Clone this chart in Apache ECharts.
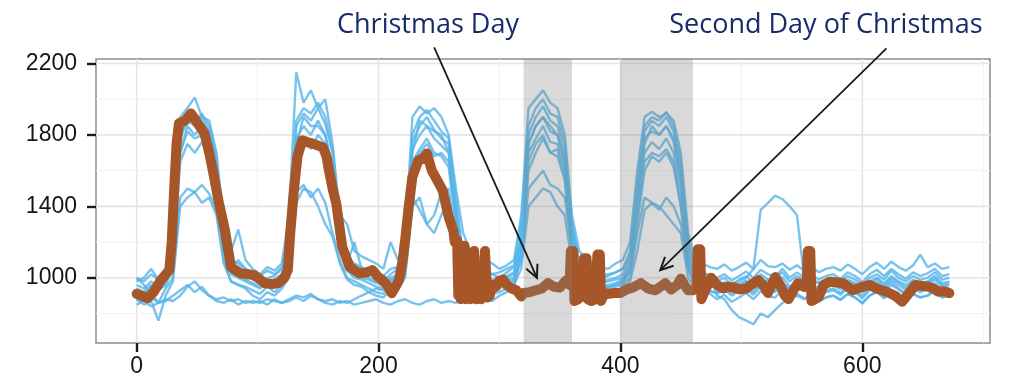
<!DOCTYPE html>
<html><head><meta charset="utf-8">
<script src="https://cdn.jsdelivr.net/npm/echarts@6/dist/echarts.min.js"></script>
<style>html,body{margin:0;padding:0;background:#fff}#c{width:1015px;height:380px}</style>
</head><body><div id="c"></div>
<script>
// time index (15-min steps) of the thin blue weekly profiles
const xIndex = [0,6,12,18,24,30,36,42,48,54,60,66,72,78,84,90,96,102,108,114,120,126,132,138,144,150,156,162,168,174,180,186,192,198,204,210,216,222,228,234,240,246,252,258,264,270,276,282,288,294,300,306,312,318,324,330,336,342,348,354,360,366,372,378,384,390,396,402,408,414,420,426,432,438,444,450,456,462,468,474,480,486,492,498,504,510,516,522,528,534,540,546,552,558,564,570,576,582,588,594,600,606,612,618,624,630,636,642,648,654,660,666,672];

const week1 = [960,940,980,950,1000,1150,1780,1880,1850,1900,1820,1640,1250,1080,1060,1020,
990,1000,970,990,1020,1200,1850,1920,1880,1950,1860,1700,1300,1100,1050,1030,
1000,980,1010,990,1010,1150,1760,1850,1900,1830,1780,1750,1400,1100,1060,1040,
1020,990,1000,1010,1030,1250,1800,1900,1960,1880,1850,1700,1250,1060,1020,1000,
980,990,1000,1020,1100,1500,1820,1880,1850,1900,1820,1600,1150,1020,1000,990,
980,1000,960,990,1010,970,1020,990,1000,1030,980,1010,990,1000,970,990,
1000,980,1010,990,960,1000,1020,990,1040,1000,980,1010,990,1000,1030,990,
1000];
const week2 = [920,900,950,930,960,1050,1650,1750,1700,1760,1680,1500,1150,1020,1000,980,
960,940,980,950,990,1100,1700,1780,1720,1800,1750,1550,1180,1040,1000,990,
970,950,940,980,1000,1080,1650,1720,1780,1700,1680,1620,1300,1050,1020,1000,
980,960,970,990,1000,1150,1700,1780,1850,1760,1750,1600,1200,1020,990,980,
950,960,970,990,1050,1400,1700,1760,1720,1780,1700,1480,1100,990,970,960,
940,975,930,950,985,940,960,990,950,970,940,995,950,960,925,950,
960,935,970,955,920,965,980,945,990,960,935,970,955,960,990,950,
960];
const week3 = [900,880,920,860,940,1000,1450,1500,1480,1520,1470,1380,1100,980,960,950,
930,910,950,920,960,1050,1480,1520,1450,1500,1420,1250,1100,1000,980,960,
940,920,910,950,960,1020,1450,1380,1300,1350,1480,1500,1200,1000,980,970,
950,930,940,960,980,1100,1500,1550,1600,1520,1500,1450,1150,990,960,950,
930,940,950,960,1000,1250,1450,1420,1380,1450,1400,1300,1050,960,940,930,
910,935,900,925,940,905,950,925,920,965,905,940,925,930,895,920,
930,905,945,920,885,930,955,915,960,935,905,940,920,935,960,920,
930];
const week4 = [980,1000,1050,990,1020,1250,1900,1950,2010,1900,1880,1700,1300,1150,1270,1100,
1050,1020,1060,1040,1080,1350,2150,1980,2050,1950,2000,1750,1350,1300,1150,1120,
1100,1080,1050,1200,1100,1200,1900,1960,1920,1950,1900,1800,1500,1250,1150,1120,
1100,1080,1050,1070,1100,1350,1950,2000,2050,1980,1950,1800,1350,1150,1100,1080,
1060,1050,1080,1100,1200,1600,1900,1930,1900,1920,1880,1700,1250,1100,1080,1060,
1050,1075,1040,1060,1085,1050,1100,1065,1060,1080,1045,1070,1040,1065,1030,1050,
1060,1040,1075,1050,1020,1060,1085,1050,1090,1060,1040,1070,1130,1060,1080,1050,
1060];
const week5 = [1000,960,900,980,1020,1100,1700,1850,1800,1850,1780,1600,1200,1050,1100,1050,
1020,980,1000,1010,1050,1150,1750,1900,1850,1850,1800,1600,1250,1080,1200,1050,
1050,1000,980,1020,1050,1100,1700,1880,1850,1820,1800,1700,1350,1150,1100,1080,
1050,1020,1000,1030,1060,1200,1750,1850,1900,1850,1800,1650,1300,1080,1050,1030,
1000,1010,1030,1050,1120,1450,1750,1850,1800,1850,1780,1550,1200,1050,1030,1010,
1000,1020,985,1010,1035,1000,1045,1020,1005,1050,1000,1030,1005,1020,990,1010,
1020,995,1030,1010,975,1020,1045,1010,1050,1020,995,1030,1010,1025,1050,1010,
1020];
const week6 = [880,850,870,760,900,980,1400,1450,1480,1420,1450,1350,1080,980,960,940,
900,880,920,900,940,1000,1420,1500,1480,1400,1300,1230,1080,990,960,950,
920,900,890,930,950,1000,1400,1450,1300,1250,1350,1450,1150,980,960,950,
930,910,920,940,960,1050,1400,1450,1500,1480,1400,1350,1080,970,940,930,
910,920,930,940,980,1150,1380,1420,1400,1350,1300,1250,1000,940,920,910,
880,905,865,890,915,880,925,895,890,935,875,910,885,900,865,890,
900,875,910,890,855,900,925,885,930,905,875,910,890,900,935,890,
900];
const week7 = [880,870,890,860,870,900,930,960,920,950,900,880,890,870,880,860,
870,860,880,870,860,880,900,890,910,880,870,880,860,870,850,860,
870,880,860,850,870,880,860,850,870,880,860,870,860,880,870,860,
880,870,900,920,950,1150,1650,1750,1800,1700,1720,1550,1150,990,960,950,
940,950,960,980,1050,1350,1650,1700,1680,1720,1650,1400,1050,950,930,920,
920,945,910,935,950,920,965,940,930,975,920,950,935,940,910,930,
940,915,950,930,900,940,965,930,975,940,915,950,930,945,970,930,
940];
const week8 = [850,870,840,860,880,870,900,950,980,930,900,870,860,880,850,870,
860,870,850,880,860,870,890,870,900,880,860,850,870,860,880,900,
920,940,930,950,960,1050,1600,1700,1750,1680,1700,1650,1300,1050,1000,980,
960,940,950,970,990,1100,1600,1700,1780,1700,1680,1550,1150,1000,970,960,
940,950,960,970,1030,1300,1600,1680,1650,1700,1620,1400,1080,980,960,950,
950,975,940,965,980,950,995,970,960,1005,950,980,965,970,940,960,
970,945,980,960,930,970,995,960,1000,975,945,980,960,975,1000,960,
970];
const week9 = [940,920,960,930,970,1080,1700,1820,1780,1800,1720,1550,1180,1030,1010,990,
970,950,990,960,1000,1120,1780,1850,1800,1880,1800,1620,1220,1060,1020,1000,
990,970,960,1000,1020,1100,1720,1800,1850,1780,1740,1700,1350,1080,1040,1020,
1000,980,990,1000,1020,1200,1750,1850,1900,1820,1800,1650,1250,1040,1010,990,
970,980,990,1000,1080,1450,1780,1820,1800,1850,1760,1550,1120,1000,980,970,
960,950,970,980,1000,1050,1380,1420,1460,1440,1400,1350,1000,980,970,960,
980,960,990,970,940,980,1000,970,1010,980,960,990,970,980,1010,970,
980];
const week10 = [1000,980,1020,990,1030,1200,1800,1900,1870,1920,1850,1680,1280,1100,1080,1050,
1030,1010,1040,1020,1060,1250,1880,1950,1920,1980,1900,1720,1320,1120,1080,1060,
1040,1020,1010,1050,1060,1180,1800,1900,1940,1880,1820,1780,1450,1120,1080,1060,
1040,1020,1030,1050,1070,1300,1850,1950,2000,1920,1900,1750,1300,1080,1050,1030,
1010,1020,1030,1050,1150,1550,1850,1900,1880,1930,1850,1650,1200,1050,1030,1010,
900,880,820,780,760,740,800,780,820,860,880,900,880,900,870,890,
900,880,910,890,860,900,920,890,930,900,880,910,890,900,930,890,
900];
const blueWeeks = [week1,week2,week3,week4,week5,week6,week7,week8,week9,week10];

// Christmas week (thick brown line)
const brownX = [0,4,9,14,20,27,29,31,33,35,40,45,50,56,60,64,68,73,78,86,92,97,102,106,112,117,122,125,127,130,133,137,141,145,150,154,157,159,162,165,170,176,184,190,195,199,203,207,211,214,217,220,222,225,228,233,237,240,244,249,253,258,262,263,265,266,267,268,269,270,271,272,274,275,276,278,279,280,281,283,284,285,287,288,289,290,292,294,297,300,303,306,310,314,318,320,325,330,335,340,345,350,355,358,359,361,362,365,368,370,372,373,376,379,381,383,384,387,390,395,400,405,410,417,423,429,437,442,447,450,453,456,460,463,464,466,467,470,475,480,485,489,494,499,504,509,514,518,522,528,532,536,539,543,547,552,554,555,557,558,561,564,568,573,578,584,588,592,598,606,612,620,627,633,637,644,650,655,660,663,668,672];
const brownY = [910,900,886,920,987,1043,1200,1490,1750,1865,1880,1920,1870,1810,1700,1565,1420,1267,1060,1025,1020,1015,990,970,965,970,1000,1043,1250,1490,1680,1770,1760,1753,1740,1730,1680,1602,1500,1418,1173,1062,1025,1030,1043,1010,987,960,914,950,987,1100,1211,1400,1565,1658,1670,1696,1602,1540,1490,1341,1260,1200,1210,900,1180,880,1100,900,1180,880,900,1050,880,1000,1150,1140,880,900,1000,880,900,1150,1140,890,900,960,950,985,990,960,940,930,895,915,920,930,940,970,950,945,985,960,1150,1150,870,880,900,1110,1110,880,870,880,1130,1130,870,915,910,915,915,935,945,970,940,930,970,935,960,995,960,930,930,940,1160,1160,880,930,1000,960,940,950,945,935,940,965,987,960,915,1004,960,900,880,930,970,950,960,1150,1150,870,880,894,960,978,975,970,950,930,945,960,940,922,900,866,900,960,955,950,935,922,925,914];

const xTicks = [0,200,400,600];
const yTicks = [1000,1400,1800,2200];
const xMinorGrid = [100,300,500,700];
const yMinorGrid = [800,1200,1600,2000];
const shadeStart = [320,400];
const shadeEnd = [360,460];
const annotationLabels = ['Christmas Day','Second Day of Christmas'];
const annotationTip = [[331,1000],[433,1043]];
const annotationTail = [[246,2290],[620,2285]];

const chart = echarts.init(document.getElementById('c'), null, {renderer:'canvas', width:1015, height:380});

const gridData = (major, minor) => major.map(v => [v,1]).concat(minor.map(v => [v,0]));
const series = [];
series.push({
  type:'custom', z:1, silent:true, animation:false, encode:{x:0},
  data: gridData(xTicks, xMinorGrid),
  renderItem:(params, api) => {
    const cs = params.coordSys; const px = api.coord([api.value(0), 1000])[0];
    const major = api.value(1) === 1;
    return {type:'line', shape:{x1:px,y1:cs.y,x2:px,y2:cs.y+cs.height},
      style:{stroke: major ? '#e4e4e4' : '#f1f1f1', lineWidth: major ? 1.6 : 1}};
  }
});
series.push({
  type:'custom', z:1, silent:true, animation:false, encode:{y:0},
  data: gridData(yTicks, yMinorGrid),
  renderItem:(params, api) => {
    const cs = params.coordSys; const py = api.coord([0, api.value(0)])[1];
    const major = api.value(1) === 1;
    return {type:'line', shape:{x1:cs.x,y1:py,x2:cs.x+cs.width,y2:py},
      style:{stroke: major ? '#e4e4e4' : '#f1f1f1', lineWidth: major ? 1.6 : 1}};
  }
});
blueWeeks.forEach(w => {
  series.push({
    type:'line', z:2, silent:true, animation:false, showSymbol:false, symbol:'none',
    data: xIndex.map((x,i) => [x, w[i]]),
    lineStyle:{color:'#56B4E9', width:2.4, opacity:0.8}
  });
});
series.push({
  type:'line', z:3, silent:true, animation:false, showSymbol:false, symbol:'none',
  data: brownX.map((x,i) => [x, brownY[i]]),
  lineStyle:{color:'#A65628', width:10, cap:'round', join:'round'}
});
series.push({
  type:'custom', z:4, silent:true, animation:false, encode:{x:[0,1]},
  data: shadeStart.map((s,i) => [s, shadeEnd[i]]),
  renderItem:(params, api) => {
    const cs = params.coordSys;
    const a = api.coord([api.value(0), 1000])[0];
    const b = api.coord([api.value(1), 1000])[0];
    return {type:'rect', shape:{x:a, y:cs.y, width:b-a, height:cs.height},
      style:{fill:'rgba(128,128,128,0.3)'}};
  }
});

const axisText = {fontFamily:'"Liberation Sans", Arial, sans-serif', fontSize:23, color:'#151515', formatter: v => String(v)};
chart.setOption({
  backgroundColor:'#fff',
  animation:false,
  grid:{left:96, right:25, top:59, bottom:37, show:true, borderColor:'#8c8c8c', borderWidth:1.5, backgroundColor:'transparent'},
  xAxis:{type:'value', min:-33.6, max:705.6,
    axisLine:{show:false, onZero:false}, splitLine:{show:false},
    axisTick:{show:true, length:9, customValues:xTicks, lineStyle:{color:'#1a1a1a', width:2.4}},
    axisLabel:Object.assign({customValues:xTicks, margin:12}, axisText)},
  yAxis:{type:'value', min:635, max:2225,
    axisLine:{show:false, onZero:false}, splitLine:{show:false},
    axisTick:{show:true, length:9, customValues:yTicks, lineStyle:{color:'#1a1a1a', width:2.4}},
    axisLabel:Object.assign({customValues:yTicks, margin:19}, axisText)},
  series: series
});

// annotations: text + arrows pointing to data positions
const textPos = [[428,25],[826,25]];
const graphics = [];
annotationLabels.forEach((label, i) => {
  graphics.push({type:'text', x:textPos[i][0], y:textPos[i][1], z:10,
    style:{text:label, font:'27px "Open Sans", sans-serif', fill:'#172b6b', align:'center', verticalAlign:'middle'}});
  const t = chart.convertToPixel({gridIndex:0}, annotationTip[i]);
  const s = chart.convertToPixel({gridIndex:0}, annotationTail[i]);
  const dx = s[0]-t[0], dy = s[1]-t[1], L = Math.hypot(dx,dy);
  const ux = dx/L, uy = dy/L, ang = 26*Math.PI/180, len = 14;
  const arm = sgn => [t[0] + len*(ux*Math.cos(sgn*ang) - uy*Math.sin(sgn*ang)),
                      t[1] + len*(ux*Math.sin(sgn*ang) + uy*Math.cos(sgn*ang))];
  graphics.push({type:'line', z:10, shape:{x1:s[0],y1:s[1],x2:t[0],y2:t[1]}, style:{stroke:'#1a1a1a', lineWidth:1.8}});
  graphics.push({type:'polyline', z:10, shape:{points:[arm(1), t, arm(-1)]}, style:{stroke:'#1a1a1a', lineWidth:2, fill:null}});
});
chart.setOption({graphic: graphics});
</script>
</body></html>
